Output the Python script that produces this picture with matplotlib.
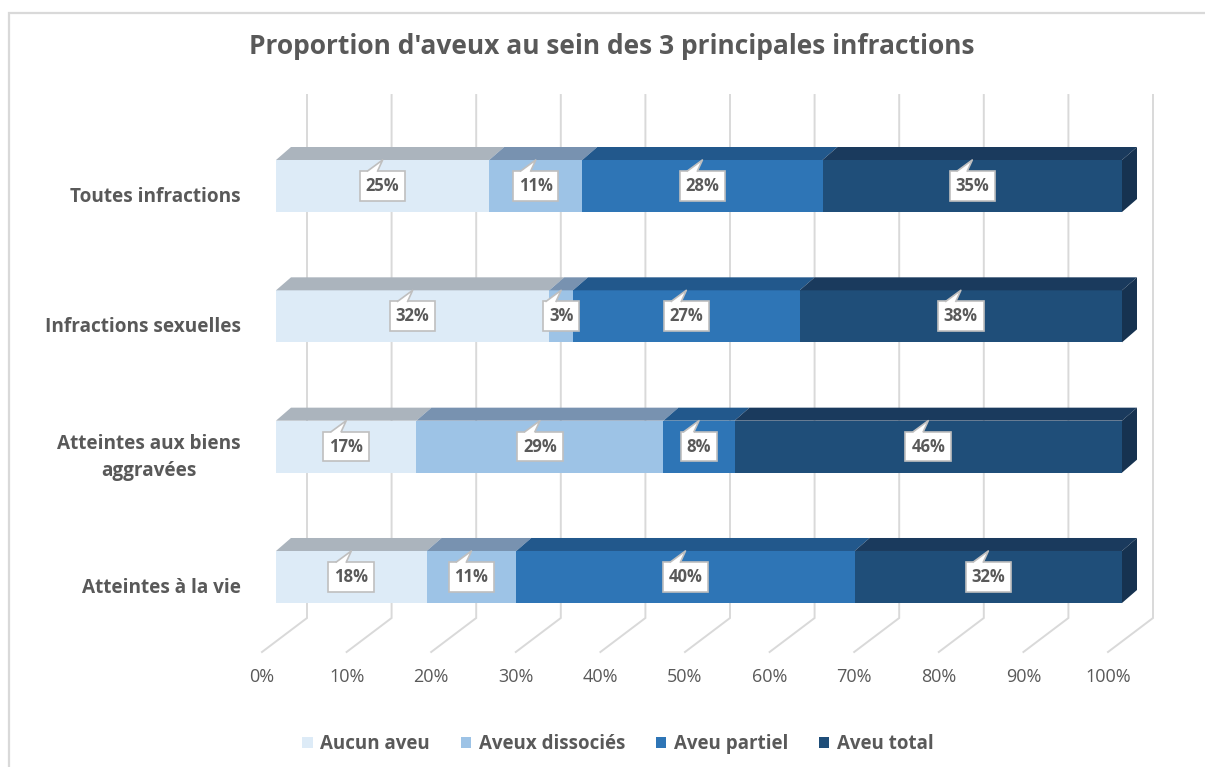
import matplotlib
matplotlib.use('Agg')
import matplotlib.pyplot as plt
from matplotlib.patches import Polygon, Rectangle

# data
categories = ['Toutes infractions', 'Infractions sexuelles',
              'Atteintes aux biens\naggravées', 'Atteintes à la vie']
series = ['Aucun aveu', 'Aveux dissociés', 'Aveu partiel', 'Aveu total']
aucun = [25.2, 32.3, 16.6, 17.8]
dissocies = [11.0, 2.8, 29.2, 10.6]
partiel = [28.4, 26.8, 8.4, 40.0]
total = [35.4, 38.1, 45.8, 31.6]
ticks = [0, 10, 20, 30, 40, 50, 60, 70, 80, 90, 100]

front_colors = ['#ddebf7', '#9dc3e6', '#2e75b6', '#1f4e79']
top_colors = ['#abb4bd', '#7892b0', '#22588c', '#1a3a5d']
side_color = '#163250'
grey = '#595959'
grid_c = '#d9d9d9'

plt.rcParams['font.family'] = ['Open Sans', 'DejaVu Sans']

W, H = 1205, 767
fig = plt.figure(figsize=(W / 100, H / 100), dpi=100)
ax = fig.add_axes([0, 0, 1, 1])
# one percent = 8.46 px, one category = 130.33 px
PX = 1 / 8.46
PY = 1 / 130.33
ax.set_xlim(-276 * PX, (W - 276) * PX)
ax.set_ylim((H - 186) * PY, -186 * PY)
ax.axis('off')

# 3d offsets
bar_dx, bar_dy = 15 * PX, -13 * PY
wall_dx = 31 * PX
floor_dx = -14 * PX
floor_y = (652 - 186) * PY
wall_y0 = (618 - 186) * PY
wall_y1 = (95 - 186) * PY

# back wall + floor grid
for t in ticks:
    ax.plot([t + floor_dx, t + wall_dx, t + wall_dx], [floor_y, wall_y0, wall_y1],
            color=grid_c, lw=1.4, zorder=1, solid_joinstyle='miter')
    ax.text(t + floor_dx, (677 - 186) * PY, f'{t}%', ha='center', va='center',
            fontsize=13, color=grey)

y = list(range(len(categories)))
h = 52 * PY
data = [aucun, dissocies, partiel, total]
left = [0] * len(categories)
handles = []
for k, vals in enumerate(data):
    b = ax.barh(y, vals, left=left, height=h, color=front_colors[k], label=series[k], zorder=3)
    handles.append(b)
    for i, (v, l) in enumerate(zip(vals, left)):
        top = i - h / 2
        ax.add_patch(Polygon([(l, top), (l + bar_dx, top + bar_dy),
                              (l + v + bar_dx, top + bar_dy), (l + v, top)],
                             closed=True, fc=top_colors[k], ec='none', zorder=3))
        if k == len(data) - 1:
            ax.add_patch(Polygon([(l + v, top), (l + v + bar_dx, top + bar_dy),
                                  (l + v + bar_dx, top + h + bar_dy), (l + v, top + h)],
                                 closed=True, fc=side_color, ec='none', zorder=3))
        # callout label
        cx = l + v / 2
        ax.text(cx, i, f'{v:.0f}%', ha='center', va='center', fontsize=12,
                fontweight='bold', color=grey, zorder=6,
                bbox=dict(boxstyle='square,pad=0.35', fc='white', ec='#bfbfbf', lw=1.2))
        box_top = i - 15 * PY
        bl, br = cx - 15 * PX, cx - 5 * PX
        ax.add_patch(Polygon([(bl, box_top + 2 * PY), (bl, box_top), (cx, top),
                              (br, box_top), (br, box_top + 2 * PY)],
                             closed=True, fc='white', ec='none', zorder=7))
        ax.plot([bl, cx, br], [box_top, top, box_top], color='#bfbfbf', lw=1.2, zorder=7)
    left = [l + v for l, v in zip(left, vals)]

for i, cat in enumerate(categories):
    ax.text(-35 * PX, i + 11 * PY, cat, ha='right', va='center', multialignment='center',
            fontsize=13.7, fontweight='bold', color=grey, linespacing=1.5)

fig.text(612 / W, 1 - 46 / H, "Proportion d'aveux au sein des 3 principales infractions",
         ha='center', va='center', fontsize=19, fontweight='bold', color=grey)

fig.legend(handles=handles, loc='center', bbox_to_anchor=(618 / W, 1 - 744 / H), ncol=4,
           frameon=False, prop={'size': 13.5, 'weight': 'bold'}, labelcolor=grey,
           handlelength=0.55, handleheight=0.55, handletextpad=0.4, columnspacing=1.65)

fig.add_artist(Rectangle((8.5 / W, -0.1), 1.2, 1.1 - 12.5 / H, transform=fig.transFigure,
                         fill=False, ec=grid_c, lw=1.6))

fig.savefig('out.png', dpi=100)
